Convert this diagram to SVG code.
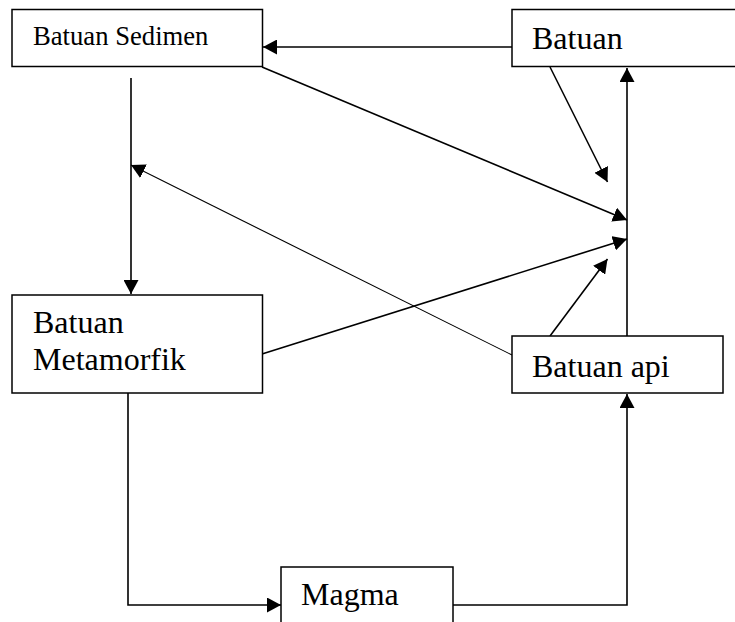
<svg xmlns="http://www.w3.org/2000/svg" width="735" height="622" viewBox="0 0 735 622">
<style>
.box{fill:#fff;stroke:#000;stroke-width:1.5}
.t{font-family:"Liberation Serif","Times New Roman",serif;font-size:32px;fill:#000}
.ts{font-family:"Liberation Serif","Times New Roman",serif;font-size:26.67px;fill:#000}
.c{fill:none;stroke:#000;stroke-width:1.6;marker-end:url(#ah)}
.thin{stroke-width:1.1}
</style>
<defs>
<marker id="ah" markerUnits="userSpaceOnUse" markerWidth="15" markerHeight="15" refX="14" refY="7.5" orient="auto" viewBox="0 0 15 15">
<path d="M0,0 L14,7.5 L0,15 z" fill="#000"/>
</marker>
</defs>
<g id="connectors">
<path class="c" d="M512,47 L263,47"/>
<path class="c" d="M627,336 L627,68"/>
<path class="c" d="M550,67 L607.5,182"/>
<path class="c" d="M262,67 L627,220"/>
<path class="c" d="M262,354 L627,239"/>
<path class="c" d="M550,336 L607.5,259"/>
<path class="c thin" d="M512,355 L131,165"/>
<path class="c" d="M131,78 L131,294"/>
<path class="c" d="M128,393 L128,605 L281,605"/>
<path class="c" d="M453,605 L627,605 L627,394"/>
</g>
<g id="sedimen">
<rect class="box" x="12" y="9.5" width="250.5" height="57"/>
<text class="ts" x="33" y="45">Batuan Sedimen</text>
</g>
<g id="batuan">
<rect class="box" x="512" y="9.5" width="240" height="57"/>
<text class="t" x="532" y="49">Batuan</text>
</g>
<g id="metamorfik">
<rect class="box" x="12" y="295" width="250.5" height="98"/>
<text class="t" x="33" y="333">Batuan</text>
<text class="t" x="33" y="370">Metamorfik</text>
</g>
<g id="batuan-api">
<rect class="box" x="512" y="336" width="211" height="57"/>
<text class="t" x="532" y="377">Batuan api</text>
</g>
<g id="magma">
<rect class="box" x="281" y="567" width="172" height="70"/>
<text class="t" x="301" y="605">Magma</text>
</g>
</svg>
